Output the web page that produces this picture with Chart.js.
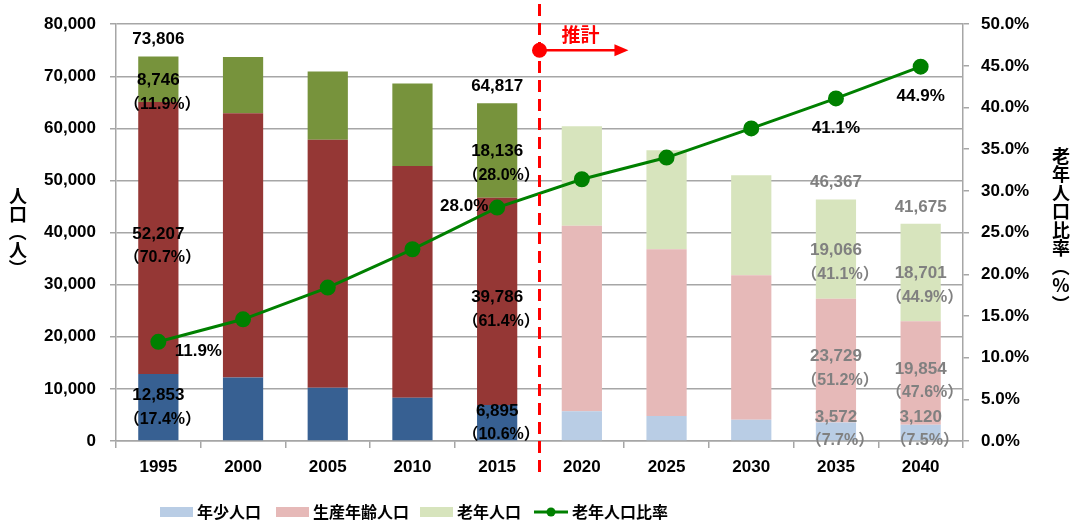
<!DOCTYPE html>
<html>
<head>
<meta charset="utf-8">
<script src="https://cdn.jsdelivr.net/npm/chart.js@4.4.1/dist/chart.umd.min.js"></script>
<style>
  html, body { margin: 0; padding: 0; background: #fff; }
  #wrap { width: 1072px; height: 524px; }
</style>
</head>
<body>
<div id="wrap"><canvas id="chart" width="1072" height="524"></canvas></div>
<script>
"use strict";

// data (人)
var years = ['1995', '2000', '2005', '2010', '2015', '2020', '2025', '2030', '2035', '2040'];
var young = [12853, 12200, 10200, 8300, 6895, 5700, 4800, 4100, 3572, 3120];
var working = [52207, 50700, 47600, 44500, 39786, 35600, 32000, 27700, 23729, 19854];
var elderly = [8746, 10800, 13100, 15800, 18136, 19100, 19000, 19200, 19066, 18701];
var elderlyRatio = [11.9, 14.6, 18.4, 23.0, 28.0, 31.4, 34.0, 37.5, 41.1, 44.9];
var youngPct = ['17.4', '', '', '', '10.6', '', '', '', '7.7', '7.5'];
var workingPct = ['70.7', '', '', '', '61.4', '', '', '', '51.2', '47.6'];
var elderlyPct = ['11.9', '', '', '', '28.0', '', '', '', '41.1', '44.9'];
var labelled = [0, 4, 8, 9];
var firstProjection = 5;

var darkCols = ['#376092', '#953735', '#77933c'];
var lightCols = ['#b9cde5', '#e6b9b8', '#d7e4bd'];

function colorsFor(i) {
    return years.map(function(y, k) { return k < firstProjection ? darkCols[i] : lightCols[i]; });
}

var NUM_FONT = 'bold 17px "Liberation Sans", "Noto Sans CJK JP", sans-serif';
var JP_FONT = 'bold 16px "Noto Sans CJK JP", sans-serif';
var GRID = '#a6a6a6';

function fmt(v) { return v.toLocaleString('en-US'); }

var labelPlugin = {
    id: 'labels',
    afterDatasetsDraw: function(chart) {
        var ctx = chart.ctx;
        var xs = chart.scales.x, ys = chart.scales.y, y1 = chart.scales.y1;
        var area = chart.chartArea;

        // projection divider
        var bx = (xs.getPixelForValue(firstProjection - 1) + xs.getPixelForValue(firstProjection)) / 2;
        ctx.save();
        ctx.strokeStyle = '#ff0000';
        ctx.lineWidth = 3;
        ctx.setLineDash([12, 7]);
        ctx.beginPath();
        ctx.moveTo(bx, 4);
        ctx.lineTo(bx, 476);
        ctx.stroke();
        ctx.setLineDash([]);
        var ay = ys.getPixelForValue(75000);
        var ax = bx + (xs.getPixelForValue(1) - xs.getPixelForValue(0)) * 1.05;
        ctx.lineWidth = 2.5;
        ctx.beginPath();
        ctx.moveTo(bx, ay);
        ctx.lineTo(ax - 10, ay);
        ctx.stroke();
        ctx.fillStyle = '#ff0000';
        ctx.beginPath();
        ctx.moveTo(ax, ay);
        ctx.lineTo(ax - 14, ay - 6);
        ctx.lineTo(ax - 14, ay + 6);
        ctx.closePath();
        ctx.fill();
        ctx.beginPath();
        ctx.arc(bx, ay, 7.5, 0, Math.PI * 2);
        ctx.fill();
        ctx.font = 'bold 19px "Noto Sans CJK JP", sans-serif';
        ctx.textAlign = 'center';
        ctx.textBaseline = 'middle';
        ctx.fillText('推計', bx + 41, ay - 15);

        // bar labels
        labelled.forEach(function(i) {
            var x = xs.getPixelForValue(i);
            var col = i < firstProjection ? '#000000' : '#808080';
            ctx.fillStyle = col;
            var segs = [
                [0, young[i], youngPct[i], 0],
                [young[i], young[i] + working[i], workingPct[i], 8],
                [young[i] + working[i], young[i] + working[i] + elderly[i], elderlyPct[i], 13]
            ];
            segs.forEach(function(s) {
                var mid = (ys.getPixelForValue(s[0]) + ys.getPixelForValue(s[1])) / 2 + s[3];
                mid = Math.min(mid, area.bottom - 12);
                ctx.font = NUM_FONT;
                ctx.fillText(fmt(s[1] - s[0]), x, mid - 12);
                ctx.font = 'bold 16px "Liberation Sans", "Noto Sans CJK JP", sans-serif';
                ctx.fillText('（' + s[2] + '%）', x + 4, mid + 12);
            });
            var total = young[i] + working[i] + elderly[i];
            ctx.font = NUM_FONT;
            ctx.fillText(fmt(total), x, ys.getPixelForValue(total) - 17);
        });

        // ratio labels
        ctx.fillStyle = '#000';
        ctx.font = NUM_FONT;
        labelled.forEach(function(i) {
            var x = xs.getPixelForValue(i), y = y1.getPixelForValue(elderlyRatio[i]);
            var txt = elderlyRatio[i].toFixed(1) + '%';
            if (i === 0) ctx.fillText(txt, x + 40, y + 10);
            else if (i === 4) ctx.fillText(txt, x - 33, y - 1);
            else ctx.fillText(txt, x, y + 30);
        });

        // axis titles, vertical
        ctx.font = 'bold 18px "Noto Sans CJK JP", sans-serif';
        drawVertical(ctx, '人口（人）', 18, 196, 18);
        drawVertical(ctx, '老年人口比率（%）', 1061, 156, 18.5);

        // legend
        var ly = 512;
        ctx.font = JP_FONT;
        ctx.textAlign = 'left';
        var items = [[160, lightCols[0], '年少人口'], [276, lightCols[1], '生産年齢人口'], [420, lightCols[2], '老年人口']];
        items.forEach(function(it) {
            ctx.fillStyle = it[1];
            ctx.fillRect(it[0], ly - 5, 33, 10);
            ctx.fillStyle = '#000';
            ctx.fillText(it[2], it[0] + 37, ly);
        });
        ctx.strokeStyle = '#008000';
        ctx.fillStyle = '#008000';
        ctx.lineWidth = 3;
        ctx.beginPath();
        ctx.moveTo(534, ly);
        ctx.lineTo(568, ly);
        ctx.stroke();
        ctx.beginPath();
        ctx.arc(551, ly, 4.5, 0, Math.PI * 2);
        ctx.fill();
        ctx.fillStyle = '#000';
        ctx.fillText('老年人口比率', 572, ly);
        ctx.restore();
    }
};

function drawVertical(ctx, text, x, y0, step) {
    ctx.fillStyle = '#000';
    ctx.textAlign = 'center';
    ctx.textBaseline = 'middle';
    Array.from(text).forEach(function(ch, k) {
        var y = y0 + k * step;
        if (ch === '（' || ch === '）') {
            ctx.save();
            ctx.translate(x, y);
            ctx.rotate(Math.PI / 2);
            ctx.fillText(ch, 0, 0);
            ctx.restore();
        } else {
            ctx.fillText(ch, x, y);
        }
    });
}

var barBase = { stack: 's', yAxisID: 'y', categoryPercentage: 1, barPercentage: 0.475, borderWidth: 0, order: 2 };

new Chart(document.getElementById('chart'), {
    type: 'bar',
    data: {
        labels: years,
        datasets: [
            Object.assign({ label: '年少人口', data: young, backgroundColor: colorsFor(0) }, barBase),
            Object.assign({ label: '生産年齢人口', data: working, backgroundColor: colorsFor(1) }, barBase),
            Object.assign({ label: '老年人口', data: elderly, backgroundColor: colorsFor(2) }, barBase),
            {
                type: 'line', label: '老年人口比率', data: elderlyRatio, yAxisID: 'y1', order: 0,
                borderColor: '#008000', backgroundColor: '#008000', borderWidth: 3,
                pointRadius: 6.5, pointHoverRadius: 6.5, pointBackgroundColor: '#008000', tension: 0
            }
        ]
    },
    options: {
        responsive: false,
        animation: false,
        events: [],
        layout: { padding: { top: 21, bottom: 43, left: 0, right: 0 } },
        plugins: { legend: { display: false }, tooltip: { enabled: false } },
        scales: {
            x: {
                stacked: true,
                grid: { drawOnChartArea: false, offset: true, color: GRID, lineWidth: 1.5, tickLength: 7 },
                border: { color: GRID, width: 1.5 },
                ticks: { color: '#000', font: { family: '"Liberation Sans"', size: 17, weight: 'bold' }, padding: 9 },
                afterFit: function(s) { s.height = 40; }
            },
            y: {
                stacked: true, min: 0, max: 80000, position: 'left',
                grid: { color: GRID, lineWidth: 1.5, tickLength: 6 },
                border: { color: GRID, width: 1.5 },
                ticks: { stepSize: 10000, color: '#000', padding: 14,
                    font: { family: '"Liberation Sans"', size: 17, weight: 'bold' },
                    callback: function(v) { return fmt(v); } },
                afterFit: function(s) { s.width = 116; }
            },
            y1: {
                min: 0, max: 50, position: 'right',
                grid: { drawOnChartArea: false, color: GRID, lineWidth: 1.5, tickLength: 6 },
                border: { color: GRID, width: 1.5 },
                ticks: { stepSize: 5, color: '#000', padding: 12,
                    font: { family: '"Liberation Sans"', size: 17, weight: 'bold' },
                    callback: function(v) { return v.toFixed(1) + '%'; } },
                afterFit: function(s) { s.width = 109; }
            }
        }
    },
    plugins: [labelPlugin]
});
</script>
</body>
</html>
